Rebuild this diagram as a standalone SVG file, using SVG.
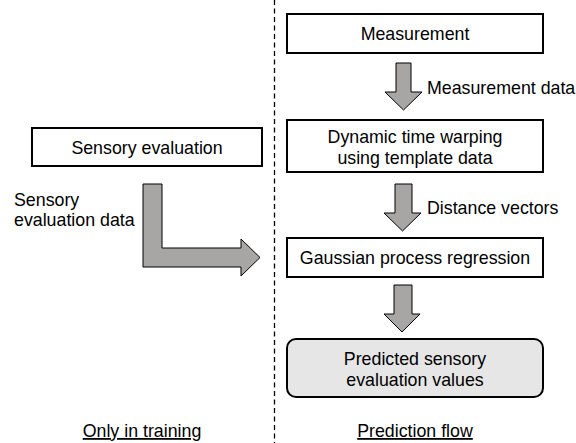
<svg xmlns="http://www.w3.org/2000/svg" width="576" height="443" viewBox="0 0 576 443">
  <style>
    text { font-family: "Liberation Sans", Arial, sans-serif; font-size: 17.8px; fill: #000; }
    .mid { text-anchor: middle; }
    .box { fill: #fff; stroke: #000; stroke-width: 2; }
    .result { fill: #e6e6e6; stroke: #000; stroke-width: 2; }
    .flow { fill: #a8a5a5; stroke: #000; stroke-width: 1; stroke-linejoin: miter; }
    .divider { stroke: #000; stroke-width: 1.3; stroke-dasharray: 5 3.5; fill: none; }
  </style>
  <rect width="576" height="443" fill="#fff"/>

  <!-- training / prediction divider -->
  <line class="divider" x1="274.5" y1="0" x2="274.5" y2="443"/>

  <g id="sensory-evaluation">
    <rect class="box" x="32" y="128" width="230" height="38"/>
    <text class="mid" x="147" y="153.5">Sensory evaluation</text>
  </g>

  <g id="measurement">
    <rect class="box" x="287" y="14" width="256" height="39"/>
    <text class="mid" x="415" y="39.5">Measurement</text>
  </g>

  <g id="dtw">
    <rect class="box" x="287" y="120" width="256" height="52"/>
    <text class="mid" x="415" y="142.5">Dynamic time warping</text>
    <text class="mid" x="415" y="163.5">using template data</text>
  </g>

  <g id="gpr">
    <rect class="box" x="287" y="238" width="256" height="39"/>
    <text class="mid" x="415" y="263.5">Gaussian process regression</text>
  </g>

  <g id="predicted-values">
    <rect class="result" x="287" y="339" width="256" height="58" rx="9" ry="9"/>
    <text class="mid" x="415" y="365">Predicted sensory</text>
    <text class="mid" x="415" y="386">evaluation values</text>
  </g>

  <g id="connectors">
    <!-- Measurement -> DTW -->
    <path class="flow" d="M396 63 H411 V92 H422 L403.5 110 L385 92 H396 Z"/>
    <text x="427" y="93.5">Measurement data</text>
    <!-- DTW -> GPR -->
    <path class="flow" d="M395 184 H412 V213 H421 L402.5 231 L384 213 H395 Z"/>
    <text x="427" y="214">Distance vectors</text>
    <!-- GPR -> predicted values -->
    <path class="flow" d="M394 285 H412 V314 H420 L402 332 L384 314 H394 Z"/>
    <!-- Sensory evaluation -> GPR (training only) -->
    <path class="flow" d="M143 184 H162 V248 H241 V239 L260 257.5 L241 276 V267 H143 Z"/>
    <text x="14" y="206">Sensory</text>
    <text x="14" y="225.5">evaluation data</text>
  </g>

  <g id="captions">
    <text class="mid" x="142" y="437" text-decoration="underline">Only in training</text>
    <text class="mid" x="415" y="437" text-decoration="underline">Prediction flow</text>
  </g>
</svg>
